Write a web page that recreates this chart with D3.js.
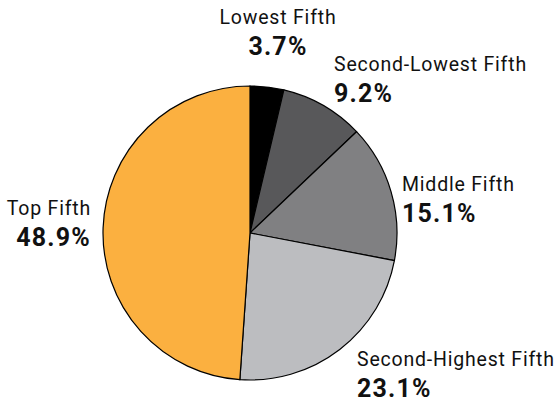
<!DOCTYPE html>
<html>
<head>
<meta charset="utf-8">
<script src="https://cdn.jsdelivr.net/npm/d3@7"></script>
<style>
  body { margin: 0; background: #fff; }
  text { font-family: "Roboto", "DejaVu Sans", sans-serif; fill: #111; }
</style>
</head>
<body>
<svg id="chart"></svg>
<script>
// shares of income by quintile
var categories = ["Lowest Fifth", "Second-Lowest Fifth", "Middle Fifth", "Second-Highest Fifth", "Top Fifth"];
var values = [3.7, 9.2, 15.1, 23.1, 48.9];
var colors = ["#000000", "#58585a", "#808082", "#bcbdc0", "#fbb040"];

var config = {
  w: 556,
  h: 402,
  cx: 250,
  cy: 233,
  r: 147
};

// label placement per slice: [x, y, anchor]
var labelPos = [
  [278, 24, "middle"],
  [334, 71, "start"],
  [402, 191, "start"],
  [357, 366, "start"],
  [91, 215, "end"]
];

var svg = d3.select("#chart")
  .attr("width", config.w)
  .attr("height", config.h);

var color = d3.scaleOrdinal()
  .domain(categories)
  .range(colors);

var pie = d3.pie()
  .sort(null)
  .value(function(d, i) { return values[i]; });

var arc = d3.arc()
  .innerRadius(0)
  .outerRadius(config.r);

var g = svg.append("g")
  .attr("transform", "translate(" + config.cx + "," + config.cy + ")");

g.selectAll("path")
  .data(pie(categories))
  .enter()
  .append("path")
    .attr("d", arc)
    .attr("fill", function(d) { return color(d.data); })
    .attr("stroke", "#000")
    .attr("stroke-width", 1.2);

var labels = svg.selectAll("g.label")
  .data(categories)
  .enter()
  .append("g")
    .attr("class", "label");

labels.append("text")
  .attr("x", function(d, i) { return labelPos[i][0]; })
  .attr("y", function(d, i) { return labelPos[i][1]; })
  .attr("text-anchor", function(d, i) { return labelPos[i][2]; })
  .style("font-size", "19.5px")
  .style("letter-spacing", "0.8px")
  .text(function(d) { return d; });

labels.append("text")
  .attr("x", function(d, i) { return labelPos[i][0]; })
  .attr("y", function(d, i) { return labelPos[i][1] + 31; })
  .attr("text-anchor", function(d, i) { return labelPos[i][2]; })
  .style("font-size", "25px")
  .style("font-weight", "bold")
  .style("letter-spacing", "1.2px")
  .text(function(d, i) { return values[i].toFixed(1) + "%"; });
</script>
</body>
</html>
